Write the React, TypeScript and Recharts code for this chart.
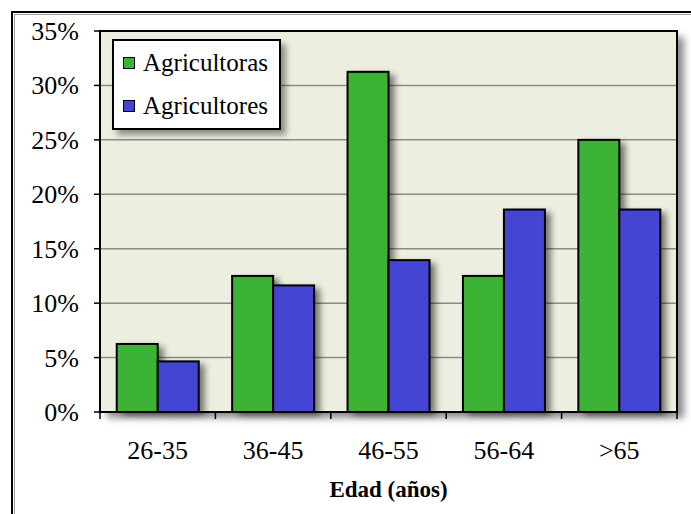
import React from 'react';
import { BarChart, Bar, XAxis, YAxis, CartesianGrid, Legend } from 'recharts';

// Share of farmers by age group, women vs. men
const ageGroups = ['26-35', '36-45', '46-55', '56-64', '>65'];
const agricultorasPct = [6.25, 12.5, 31.25, 12.5, 25];
const agricultoresPct = [4.65, 11.63, 13.95, 18.6, 18.6];
const yTicks = [0, 5, 10, 15, 20, 25, 30, 35];

const SERIES_WOMEN = 'Agricultoras';
const SERIES_MEN = 'Agricultores';
const X_TITLE = 'Edad (años)';

const data = ageGroups.map((g, i) => ({
  group: g,
  [SERIES_WOMEN]: agricultorasPct[i],
  [SERIES_MEN]: agricultoresPct[i],
}));

const FONT = "'Liberation Serif', 'DejaVu Serif', serif";
const GREEN = '#3cb334';
const BLUE = '#4545d3';
const PLOT_BG = '#ecefdf';

const W = 691;
const H = 514;
const MARGIN = { top: 31, right: 14, left: 0, bottom: 12 };
const Y_AXIS_W = 100;
const X_AXIS_H = 90;
const plotLeft = MARGIN.left + Y_AXIS_W;
const plotTop = MARGIN.top;
const plotW = W - plotLeft - MARGIN.right;
const plotH = H - MARGIN.top - MARGIN.bottom - X_AXIS_H;

const shadowBar = (fill: string) => (props: any) => {
  const { x, y, width, height } = props;
  if (!height || height <= 0) return <g />;
  return (
    <g>
      <rect
        x={x + 6}
        y={y + 3}
        width={width}
        height={height}
        fill="rgba(0,0,0,0.5)"
        style={{ filter: 'blur(3px)' }}
      />
      <rect x={x} y={y} width={width} height={height} fill={fill} stroke="#000" strokeWidth={2} />
    </g>
  );
};

const XTick = (props: any) => {
  const { x, payload, index, visibleTicksCount } = props;
  const half = payload.offset || 0;
  const axisY = plotTop + plotH;
  const isLast = index === visibleTicksCount - 1;
  return (
    <g>
      <line x1={x - half} x2={x - half} y1={axisY} y2={axisY + 7} stroke="#000" strokeWidth={1.5} />
      {isLast && <line x1={x + half} x2={x + half} y1={axisY} y2={axisY + 7} stroke="#000" strokeWidth={1.5} />}
      <text x={x} y={axisY + 47} textAnchor="middle" style={{ fontFamily: FONT }} fontSize={26} fill="#000">
        {payload.value}
      </text>
    </g>
  );
};

const YTick = (props: any) => {
  const { x, y, payload } = props;
  return (
    <text x={x} y={y + 9} textAnchor="end" style={{ fontFamily: FONT }} fontSize={26} fill="#000">
      {`${payload.value}%`}
    </text>
  );
};

const LegendBox = (props: any) => {
  const { payload } = props;
  return (
    <div
      style={{
        width: 169,
        height: 91,
        boxSizing: 'border-box',
        background: '#fff',
        border: '2px solid #000',
        boxShadow: '5px 5px 6px rgba(0,0,0,0.4)',
        fontFamily: FONT,
        fontSize: 25,
        color: '#000',
        paddingTop: 0,
      }}
    >
      {(payload || []).map((p: any) => (
        <div key={p.value} style={{ display: 'flex', alignItems: 'center', height: 43, lineHeight: '43px' }}>
          <span
            style={{
              display: 'inline-block',
              width: 12,
              height: 12,
              boxSizing: 'border-box',
              background: p.color,
              border: '1.5px solid #000',
              marginLeft: 9,
              marginRight: 8,
            }}
          />
          <span>{p.value}</span>
        </div>
      ))}
    </div>
  );
};

const TitleLabel = (props: any) => {
  const { viewBox } = props;
  const cx = viewBox.x + viewBox.width / 2;
  return (
    <text x={cx} y={plotTop + plotH + 85} textAnchor="middle" style={{ fontFamily: FONT }} fontWeight="bold" fontSize={23} fill="#000">
      {X_TITLE}
    </text>
  );
};

export default function App() {
  return (
    <div style={{ position: 'absolute', left: 0, top: 0, width: W, height: H, background: '#fff', overflow: 'hidden' }}>
      {/* frame around the figure */}
      <div style={{ position: 'absolute', left: 11, top: 11, width: 800, height: 600, borderLeft: '2.5px solid #000', borderTop: '2.5px solid #000' }} />
      <div style={{ position: 'absolute', left: 14, top: 14, width: 800, height: 600, borderLeft: '1.5px solid #9a9a9a', borderTop: '1.5px solid #9a9a9a' }} />
      {/* plot area shadow */}
      <div
        style={{
          position: 'absolute',
          left: plotLeft,
          top: plotTop,
          width: plotW,
          height: plotH,
          background: PLOT_BG,
          boxShadow: '7px 6px 7px rgba(0,0,0,0.45)',
        }}
      />
      <div style={{ position: 'absolute', left: 0, top: 0 }}>
        <BarChart width={W} height={H} data={data} margin={MARGIN} barCategoryGap="14.5%" barGap={0}>
          <CartesianGrid horizontal vertical={false} fill={PLOT_BG} fillOpacity={1} stroke="#8a8a8a" strokeWidth={1.5} />
          <XAxis
            dataKey="group"
            height={X_AXIS_H}
            tickLine={false}
            axisLine={{ stroke: '#000', strokeWidth: 2 }}
            tick={<XTick />}
            interval={0}
            label={<TitleLabel />}
          />
          <YAxis
            width={Y_AXIS_W}
            domain={[0, 35]}
            ticks={yTicks}
            interval={0}
            tickSize={6}
            tickMargin={15}
            tickLine={{ stroke: '#000', strokeWidth: 1.5 }}
            axisLine={{ stroke: '#000', strokeWidth: 2 }}
            tick={<YTick />}
          />
          <Legend
            layout="vertical"
            align="center"
            verticalAlign="middle"
            wrapperStyle={{ left: 112, top: 39, width: 169, height: 91 }}
            content={<LegendBox />}
          />
          <Bar dataKey={SERIES_WOMEN} fill={GREEN} isAnimationActive={false} shape={shadowBar(GREEN)} />
          <Bar dataKey={SERIES_MEN} fill={BLUE} isAnimationActive={false} shape={shadowBar(BLUE)} />
        </BarChart>
      </div>
      {/* plot border */}
      <div
        style={{
          position: 'absolute',
          left: plotLeft - 1,
          top: plotTop - 1,
          width: plotW + 2,
          height: plotH + 2,
          boxSizing: 'border-box',
          border: '2px solid #000',
          pointerEvents: 'none',
        }}
      />
    </div>
  );
}
